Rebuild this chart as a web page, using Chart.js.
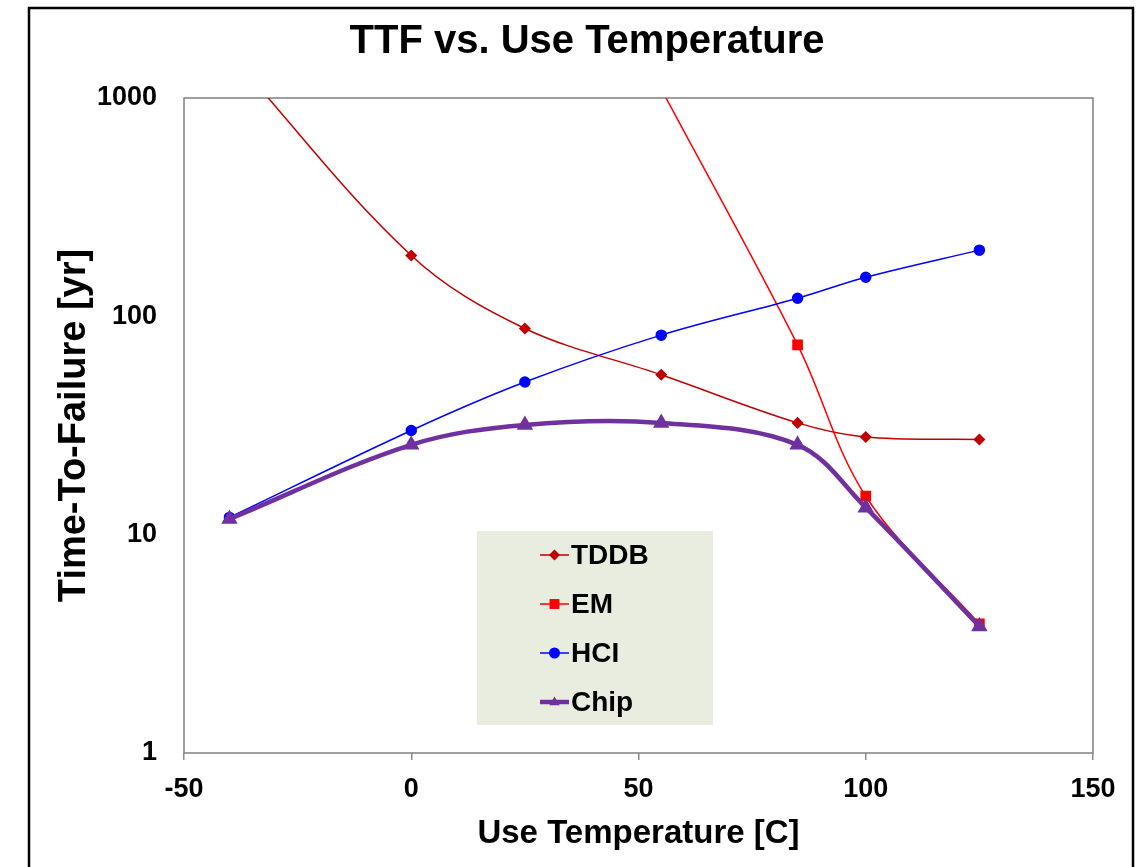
<!DOCTYPE html>
<html lang="en">
<head>
<meta charset="UTF-8">
<title>TTF vs. Use Temperature</title>
<script src="https://cdn.jsdelivr.net/npm/chart.js"></script>
<style>
  html, body { margin: 0; padding: 0; background: #fff; }
  #wrap { width: 1138px; height: 867px; }
</style>
</head>
<body>
<div id="wrap"><canvas id="ttfChart" width="1138" height="867"></canvas></div>
<script>
    // values (years, log axis)
    const temps = [-40, 0, 25, 55, 85, 100, 125];
    const tddb  = [1600, 190, 88, 54, 32.5, 28, 27.3];
    const em    = [null, null, null, 1100, 74, 15, 3.9];
    const hci   = [12, 30, 50, 82, 121, 151, 201];
    const chip  = [11.8, 25.8, 31.8, 32.5, 25.8, 13.3, 3.8];

    const seriesNames = ['TDDB', 'EM', 'HCI', 'Chip'];
    const xTicks = [-50, 0, 50, 100, 150];
    const xTickLabels = ['-50', '0', '50', '100', '150'];
    const yTicks = [1, 10, 100, 1000];
    const yTickLabels = ['1', '10', '100', '1000'];

    const chartTitle = 'TTF vs. Use Temperature';
    const xTitle = 'Use Temperature [C]';
    const yTitle = 'Time-To-Failure [yr]';

    const FONT = 'Arial, "Liberation Sans", Helvetica, sans-serif';

    function toPoints(values) {
        return temps.map((t, i) => ({ x: t, y: values[i] })).filter(p => p.y !== null);
    }

    function drawMarker(ctx, style, x, y, r, color) {
        ctx.save();
        ctx.fillStyle = color;
        ctx.beginPath();
        if (style === 'rectRot') {
            ctx.moveTo(x - r, y); ctx.lineTo(x, y - r); ctx.lineTo(x + r, y); ctx.lineTo(x, y + r);
        } else if (style === 'rect') {
            const s = r * Math.SQRT1_2;
            ctx.rect(x - s, y - s, 2 * s, 2 * s);
        } else if (style === 'triangle') {
            ctx.moveTo(x, y - r); ctx.lineTo(x + r * 0.95, y + r * 0.6); ctx.lineTo(x - r * 0.95, y + r * 0.6);
        } else {
            ctx.arc(x, y, r, 0, Math.PI * 2);
        }
        ctx.closePath();
        ctx.fill();
        ctx.restore();
    }

    const decorPlugin = {
        id: 'decor',
        beforeDraw(chart) {
            const ctx = chart.ctx;
            ctx.save();
            ctx.fillStyle = '#fff';
            ctx.fillRect(0, 0, chart.width, chart.height);
            ctx.strokeStyle = '#000';
            ctx.lineWidth = 2.5;
            ctx.strokeRect(29, 8, 1104, 900);
            ctx.font = 'bold 40px ' + FONT;
            ctx.fillStyle = '#000';
            ctx.textAlign = 'center';
            ctx.textBaseline = 'middle';
            ctx.fillText(chartTitle, 587, 42);
            ctx.restore();
        },
        beforeDatasetsDraw(chart) {
            const { ctx, chartArea: a } = chart;
            ctx.save();
            ctx.fillStyle = '#e9eddf';
            ctx.fillRect(477, 531, 236, 194);
            ctx.strokeStyle = '#808080';
            ctx.lineWidth = 1.5;
            ctx.strokeRect(a.left, a.top, a.right - a.left, a.bottom - a.top);
            ctx.restore();
        },
        afterDatasetsDraw(chart) {
            const ctx = chart.ctx;
            ctx.save();
            chart.data.datasets.forEach((ds, i) => {
                const y = 555 + i * 49;
                ctx.strokeStyle = ds.borderColor;
                ctx.lineWidth = ds.borderWidth;
                ctx.beginPath();
                ctx.moveTo(540, y);
                ctx.lineTo(569, y);
                ctx.stroke();
                drawMarker(ctx, ds.pointStyle, 554.5, y, ds.pointRadius + 0.5, ds.borderColor);
                ctx.font = 'bold 28px ' + FONT;
                ctx.fillStyle = '#000';
                ctx.textAlign = 'left';
                ctx.textBaseline = 'middle';
                ctx.fillText(ds.label, 571, y + 1);
            });
            ctx.restore();
        }
    };

    new Chart(document.getElementById('ttfChart'), {
        type: 'line',
        data: {
            datasets: [
                { label: seriesNames[0], data: toPoints(tddb), borderColor: '#c00000', backgroundColor: '#c00000',
                  borderWidth: 1.5, pointStyle: 'rectRot', pointRadius: 5, order: 4 },
                { label: seriesNames[1], data: toPoints(em), borderColor: '#ff0000', backgroundColor: '#ff0000',
                  borderWidth: 1.5, pointStyle: 'rect', pointRadius: 6.5, order: 3 },
                { label: seriesNames[2], data: toPoints(hci), borderColor: '#0000ff', backgroundColor: '#0000ff',
                  borderWidth: 1.5, pointStyle: 'circle', pointRadius: 5, order: 2 },
                { label: seriesNames[3], data: toPoints(chip), borderColor: '#7030a0', backgroundColor: '#7030a0',
                  borderWidth: 4.5, pointStyle: 'triangle', pointRadius: 5, order: 1 }
            ]
        },
        options: {
            responsive: false,
            animation: false,
            layout: { padding: { top: 98, right: 45, bottom: 0, left: 0 } },
            elements: {
                line: { tension: 0.35, fill: false },
                point: { borderWidth: 0, hoverRadius: 6 }
            },
            plugins: {
                legend: { display: false },
                tooltip: { enabled: false }
            },
            scales: {
                x: {
                    type: 'linear',
                    min: -50,
                    max: 150,
                    afterBuildTicks: s => { s.ticks = xTicks.map(v => ({ value: v })); },
                    afterFit: s => { s.height = 114; },
                    grid: { display: true, drawOnChartArea: false, drawTicks: true, tickLength: 7, color: '#8c8c8c', lineWidth: 1.5 },
                    border: { display: false },
                    ticks: {
                        font: { family: FONT, size: 27, weight: 'bold' },
                        color: '#000',
                        padding: 13,
                        maxRotation: 0,
                        callback: (v, i) => xTickLabels[i]
                    },
                    title: {
                        display: true,
                        text: xTitle,
                        color: '#000',
                        font: { family: FONT, size: 33, weight: 'bold' },
                        padding: { top: 0, bottom: 13 }
                    }
                },
                y: {
                    type: 'logarithmic',
                    min: 1,
                    max: 1000,
                    afterBuildTicks: s => { s.ticks = yTicks.map(v => ({ value: v })); },
                    afterFit: s => { s.width = 184; },
                    grid: { display: false, drawTicks: false },
                    border: { display: false },
                    ticks: {
                        font: { family: FONT, size: 27, weight: 'bold' },
                        color: '#000',
                        padding: 27,
                        callback: (v, i) => yTickLabels[i]
                    },
                    title: {
                        display: true,
                        text: yTitle,
                        color: '#000',
                        font: { family: FONT, size: 38, weight: 'bold' },
                        padding: { top: 52, bottom: 0 }
                    }
                }
            }
        },
        plugins: [decorPlugin]
    });
</script>
</body>
</html>
